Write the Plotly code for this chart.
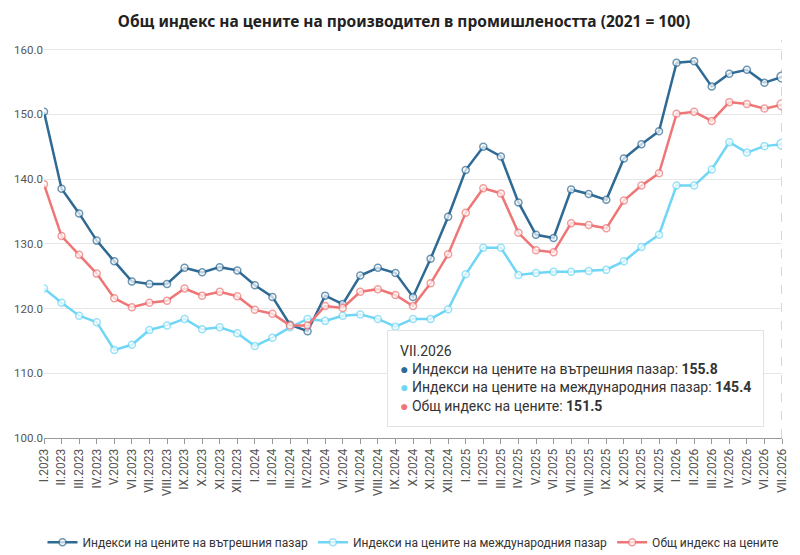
import plotly.graph_objects as go

roman = ["I", "II", "III", "IV", "V", "VI", "VII", "VIII", "IX", "X", "XI", "XII"]
months = [f"{r}.{y}" for y in (2023, 2024, 2025) for r in roman] + [f"{r}.2026" for r in roman[:7]]

domestic = [150.4, 138.5, 134.7, 130.5, 127.3, 124.2, 123.8, 123.8, 126.3, 125.6, 126.4, 125.9,
            123.6, 121.8, 117.5, 116.5, 122.0, 120.7, 125.1, 126.3, 125.5, 121.8, 127.7, 134.2,
            141.4, 145.0, 143.5, 136.4, 131.4, 130.9, 138.4, 137.7, 136.8, 143.2, 145.4, 147.4,
            158.0, 158.2, 154.3, 156.3, 156.9, 154.9, 155.8]
international = [123.1, 120.9, 118.9, 117.9, 113.6, 114.4, 116.7, 117.4, 118.4, 116.8, 117.1, 116.2,
                 114.2, 115.5, 117.1, 118.4, 118.1, 118.9, 119.1, 118.4, 117.2, 118.4, 118.4, 119.9,
                 125.3, 129.4, 129.4, 125.2, 125.5, 125.7, 125.7, 125.8, 126.0, 127.3, 129.5, 131.4,
                 139.0, 139.0, 141.5, 145.7, 144.1, 145.1, 145.4]
total = [139.2, 131.2, 128.3, 125.4, 121.6, 120.2, 120.9, 121.2, 123.1, 122.0, 122.6, 121.9,
         119.8, 119.2, 117.4, 117.4, 120.4, 120.1, 122.6, 123.0, 122.1, 120.4, 123.9, 128.4,
         134.8, 138.6, 137.8, 131.7, 129.0, 128.7, 133.2, 132.9, 132.4, 136.7, 139.0, 140.9,
         150.1, 150.4, 149.0, 151.9, 151.6, 150.9, 151.5]

names = ["Индекси на цените на вътрешния пазар",
         "Индекси на цените на международния пазар",
         "Общ индекс на цените"]
colors = ["#2e6a94", "#6fd6f5", "#ef7676"]
series = [domestic, international, total]

fig = go.Figure()
for name, vals, col in zip(names, series, colors):
    sizes = [7] * (len(vals) - 1) + [10]
    fig.add_trace(go.Scatter(
        x=months, y=vals, name=name, mode="lines+markers",
        line=dict(color=col, width=2.5),
        marker=dict(size=sizes, color="white", line=dict(color=col, width=1.5)),
    ))

# hover crosshair at the last month
fig.add_shape(type="line", xref="x", yref="paper", x0=months[-1], x1=months[-1], y0=0, y1=1,
              line=dict(color="#c9a3a3", width=1, dash="dash"), layer="below")

# tooltip box
tip = [months[-1]]
for name, vals, col in zip(names, series, colors):
    tip.append(f"<span style='color:{col}'>●</span> {name}: <b>{vals[-1]:.1f}</b>")
fig.add_annotation(
    xref="paper", yref="paper", x=0.465, y=0.271, xanchor="left", yanchor="top",
    text="<br>".join(tip), showarrow=False, align="left",
    font=dict(size=14, color="#333", family="Roboto"),
    bgcolor="white", bordercolor="#e2e2e2", borderwidth=1, borderpad=12,
)

# the page adds an 8px body margin, so the figure is 8px smaller on each side
fig.update_layout(
    width=792, height=547,
    paper_bgcolor="white", plot_bgcolor="white",
    margin=dict(l=36, r=18, t=32, b=117, autoexpand=False),
    font=dict(family="Roboto", size=11, color="#555"),
    title=dict(text="<b>Общ индекс на цените на производител в промишлеността (2021 = 100)</b>",
               x=0.5, xanchor="center", y=0.985, yanchor="top",
               font=dict(size=15.5, color="#222", family="Noto Sans")),
    legend=dict(orientation="h", x=0.5, xanchor="center", y=-0.262, yanchor="middle",
                font=dict(size=12, color="#333", family="Roboto"), itemwidth=30),
    showlegend=True,
    hovermode="x unified",
)
fig.update_xaxes(
    type="category", range=[0, len(months) - 1], tickangle=-90, automargin=False,
    showgrid=False, showline=True, linecolor="#999", linewidth=1,
    ticks="outside", ticklen=5, tickcolor="#999", tickfont=dict(size=12, color="#555"),
)
fig.update_yaxes(
    range=[100, 161.5], dtick=10, tickformat=".1f", automargin=False,
    showgrid=True, gridcolor="#e6e6e6", zeroline=False, ticks="",
    tickfont=dict(size=11.5, color="#555"),
)

fig.write_html("out.html")
